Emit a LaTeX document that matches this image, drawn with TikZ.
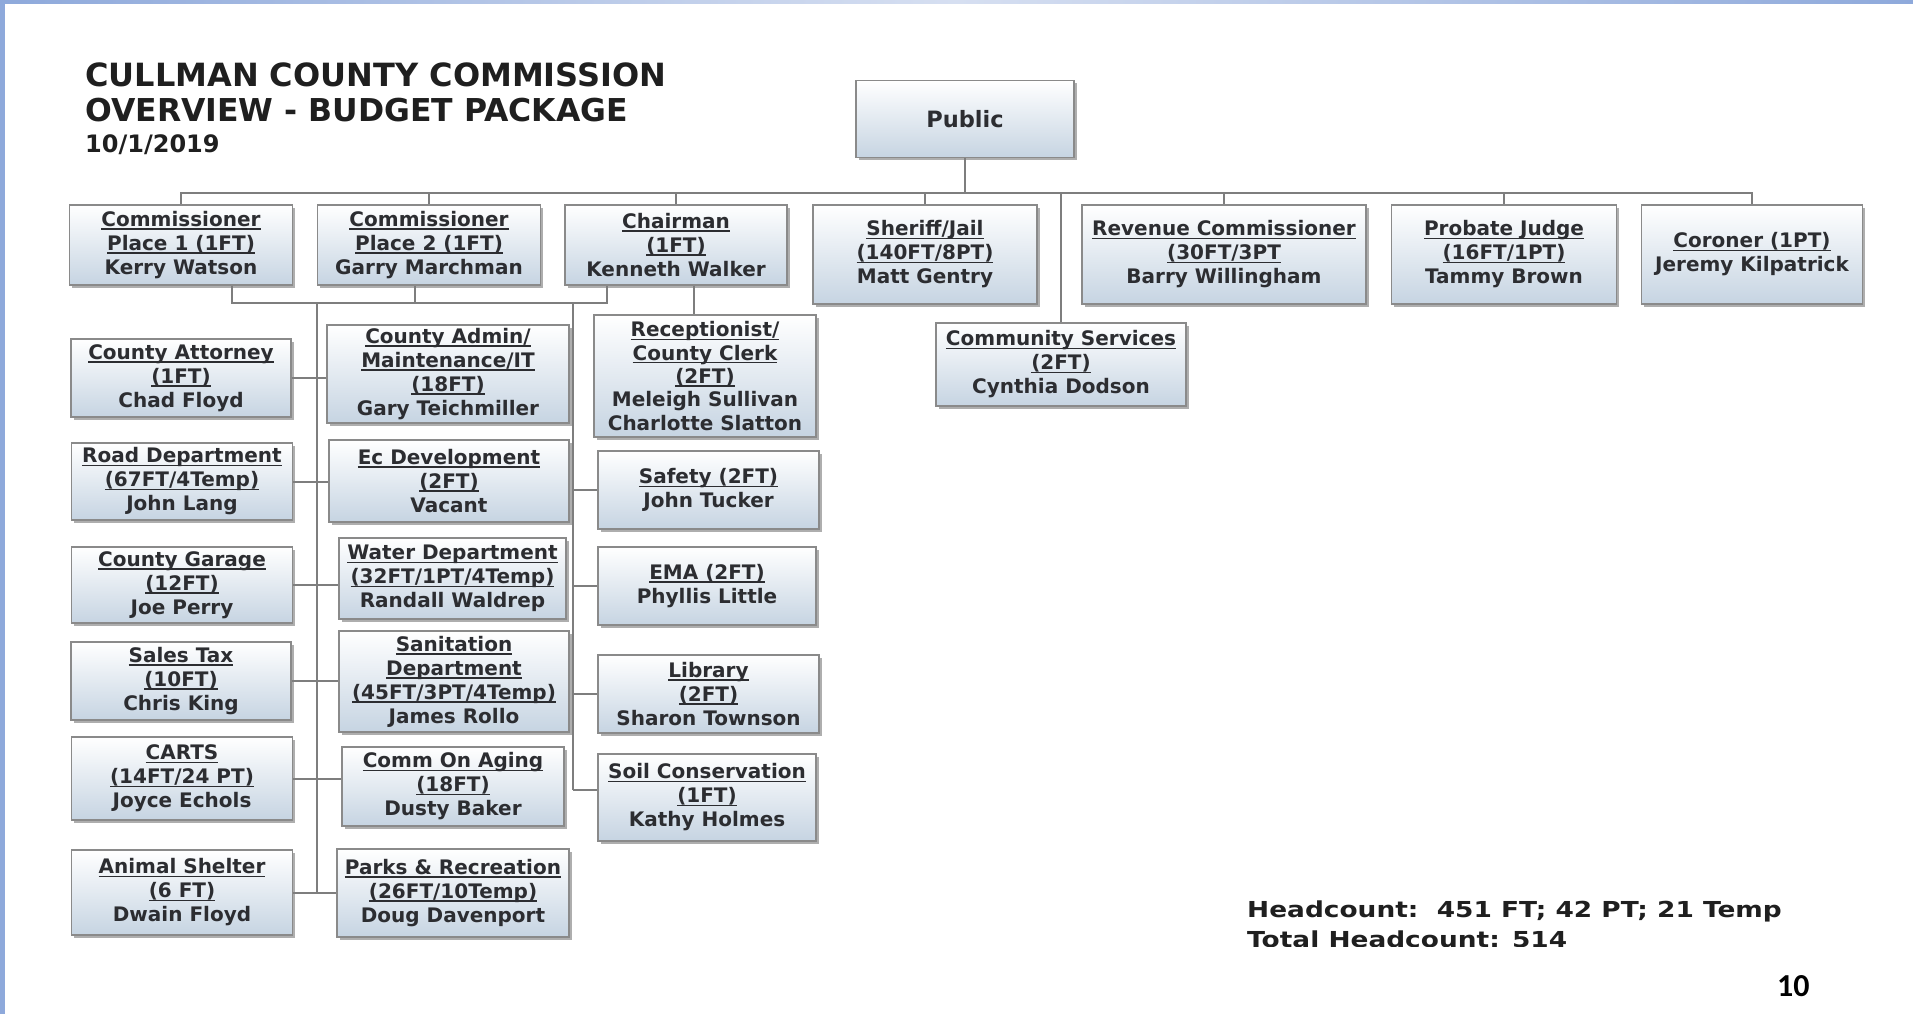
\documentclass[tikz,border=0pt]{standalone}
\usepackage{fontspec}
\setmainfont{DejaVu Sans}
\newfontfamily\hcfont{DejaVu Sans}[FakeStretch=1.2]
\newfontfamily\pgfont{Carlito}
\usetikzlibrary{shadows,calc}
\definecolor{txt}{HTML}{2C2D31}
\definecolor{bline}{HTML}{8A8A8A}
\definecolor{boxbot}{HTML}{C6D4E2}
\definecolor{lncol}{HTML}{7E7E7E}
\definecolor{band}{HTML}{8EA9DB}
\definecolor{bandl}{HTML}{D6DFF1}
\newcommand\myul[1]{\leavevmode\setbox0\hbox{#1}\rlap{\vrule height -2pt depth 3.4pt width \wd0}\box0}
\tikzset{
  orgbox/.style={draw=bline, line width=1.2pt, top color=white, bottom color=boxbot,
    drop shadow={shadow xshift=2.5pt, shadow yshift=-2.5pt, opacity=0.45, fill=black!70},
    align=center, text=txt, inner sep=0pt,
    font=\fontsize{20}{24}\selectfont\bfseries},
  bx/.style 2 args={orgbox, minimum width=#1pt, minimum height=#2pt},
  link/.style={draw=lncol, line width=2pt},
  ttl/.style={anchor=base west, inner sep=0pt, text=black!88}
}
\begin{document}
\begin{tikzpicture}[x=1pt,y=-1pt]
\useasboundingbox (0,0) rectangle (1913,1014);
\fill[white] (0,0) rectangle (1913,1014);
\shade[left color=band, right color=band, middle color=bandl] (0,0) rectangle (1913,4);
\fill[band] (0,0) rectangle (5,1014);

% title
\node[ttl, font=\fontsize{32}{32}\selectfont\bfseries] (t1) at (85,87) {CULLMAN COUNTY COMMISSION};
\node[ttl, font=\fontsize{31.5}{32}\selectfont\bfseries] (t2) at (85,122) {OVERVIEW - BUDGET PACKAGE};
\node[ttl, font=\fontsize{24}{24}\selectfont\bfseries] (t3) at (85,153) {10/1/2019};

% top
\node[bx={218}{77}, font=\fontsize{22.5}{24}\selectfont\bfseries] (pub) at (965,119) {Public};

% row 1
\node[bx={223}{80}] (c1) at (181,245) {\myul{Commissioner}\\\myul{Place 1 (1FT)}\\Kerry Watson};
\node[bx={223}{80}] (c2) at (429,245) {\myul{Commissioner}\\\myul{Place 2 (1FT)}\\Garry Marchman};
\node[bx={222}{80}] (chair) at (676,245) {\myul{Chairman}\\\myul{(1FT)}\\Kenneth Walker};
\node[bx={224}{99}] (sher) at (925,254.5) {\myul{Sheriff/Jail}\\\myul{(140FT/8PT)}\\Matt Gentry};
\node[bx={284}{99}] (rev) at (1224,254.5) {\myul{Revenue Commissioner}\\\myul{(30FT/3PT}\\Barry Willingham};
\node[bx={225}{99}] (prob) at (1504,254.5) {\myul{Probate Judge}\\\myul{(16FT/1PT)}\\Tammy Brown};
\node[bx={221}{99}] (coro) at (1752,254.5) {\myul{Coroner (1PT)}\\Jeremy Kilpatrick};
\node[bx={250}{83}] (comm) at (1061,364.5) {\myul{Community Services}\\\myul{(2FT)}\\Cynthia Dodson};

% left column
\node[bx={220}{78}] (att) at (181,378) {\myul{County Attorney}\\\myul{(1FT)}\\Chad Floyd};
\node[bx={221}{77}] (road) at (182,481.5) {\myul{Road Department}\\\myul{(67FT/4Temp)}\\John Lang};
\node[bx={221}{76}] (gar) at (182,585) {\myul{County Garage}\\\myul{(12FT)}\\Joe Perry};
\node[bx={220}{78}] (sales) at (181,681) {\myul{Sales Tax}\\\myul{(10FT)}\\Chris King};
\node[bx={221}{83}] (carts) at (182,778.5) {\myul{CARTS}\\\myul{(14FT/24 PT)}\\Joyce Echols};
\node[bx={221}{85}] (anim) at (182,892.5) {\myul{Animal Shelter}\\\myul{(6 FT)}\\Dwain Floyd};

% middle column
\node[bx={242}{98}] (admin) at (448,374) {\myul{County Admin/}\\\myul{Maintenance/IT}\\\myul{(18FT)}\\Gary Teichmiller};
\node[bx={240}{82}] (ecdev) at (449,481) {\myul{Ec Development}\\\myul{(2FT)}\\Vacant};
\node[bx={227}{81}] (water) at (452.5,578.5) {\myul{Water Department}\\\myul{(32FT/1PT/4Temp)}\\Randall Waldrep};
\node[bx={230}{101}] (sani) at (454,681.5) {\myul{Sanitation}\\\myul{Department}\\\myul{(45FT/3PT/4Temp)}\\James Rollo};
\node[bx={222}{79}] (aging) at (453,786.5) {\myul{Comm On Aging}\\\myul{(18FT)}\\Dusty Baker};
\node[bx={232}{88}] (parks) at (453,893) {\myul{Parks \& Recreation}\\\myul{(26FT/10Temp)}\\Doug Davenport};

% right column
\node[bx={222}{122}, font=\fontsize{20}{23.4}\selectfont\bfseries] (rec) at (705,376) {\myul{Receptionist/}\\\myul{County Clerk}\\\myul{(2FT)}\\Meleigh Sullivan\\Charlotte Slatton};
\node[bx={221}{78}] (safe) at (708.5,490) {\myul{Safety (2FT)}\\John Tucker};
\node[bx={218}{78}] (ema) at (707,586) {\myul{EMA (2FT)}\\Phyllis Little};
\node[bx={221}{78}] (lib) at (708.5,694) {\myul{Library}\\\myul{(2FT)}\\Sharon Townson};
\node[bx={218}{87}] (soil) at (707,797.5) {\myul{Soil Conservation}\\\myul{(1FT)}\\Kathy Holmes};

% bus from Public
\coordinate (busy) at (0,193);
\draw[link] (pub.south) -- (pub.south |- busy);
\draw[link] (c1.north) -- (c1.north |- busy) -- (coro.north |- busy) -- (coro.north);
\foreach \n in {c2,chair,sher,rev,prob}{\draw[link] (\n.north) -- (\n.north |- busy);}
\draw[link] (comm.north) -- (comm.north |- busy);

% commissioners bar
\coordinate (cbar) at (0,303);
\draw[link] ([xshift=51pt]c1.south) -- ([xshift=51pt]c1.south |- cbar) -- ([xshift=-69pt]chair.south |- cbar) -- ([xshift=-69pt]chair.south);
\draw[link] ([xshift=-14pt]c2.south) -- ([xshift=-14pt]c2.south |- cbar);
\coordinate (rx) at (694,0);
\draw[link] (chair.south -| rx) -- (rec.north -| rx);

% trunks
\coordinate (lt) at (317,303);
\coordinate (mt) at (573,303);
\coordinate (soilc) at ([yshift=7.5pt]soil.west);
\draw[link] (lt) -- (lt |- anim.east);
\draw[link] (mt) -- (mt |- soilc);

% left horizontals
\draw[link] (att.east) -- (att.east -| admin.west);
\draw[link] (road.east) -- (road.east -| ecdev.west);
\draw[link] (gar.east) -- (gar.east -| water.west);
\draw[link] (sales.east) -- (sales.east -| sani.west);
\draw[link] (carts.east) -- (carts.east -| aging.west);
\draw[link] (anim.east) -- (anim.east -| parks.west);

% right horizontals
\draw[link] (mt |- safe.west) -- (safe.west);
\draw[link] (mt |- ema.west) -- (ema.west);
\draw[link] (mt |- lib.west) -- (lib.west);
\draw[link] (mt |- soilc) -- (soilc);

% headcount
\begin{scope}
\clip (1200,870) rectangle (1860,946);
\node[ttl, font=\hcfont\bfseries\fontsize{22}{22}\selectfont] (hc1) at (1247,917) {Headcount:\ \ 451 FT; 42 PT; 21 Temp};
\node[ttl, font=\hcfont\bfseries\fontsize{22}{22}\selectfont] (hc2) at (1247,947) {Total Headcount: 514};
\end{scope}
\node[ttl, font=\pgfont\bfseries\fontsize{32}{32}\selectfont, text=black] (pg) at (1777,996) {10};
\end{tikzpicture}
\end{document}
